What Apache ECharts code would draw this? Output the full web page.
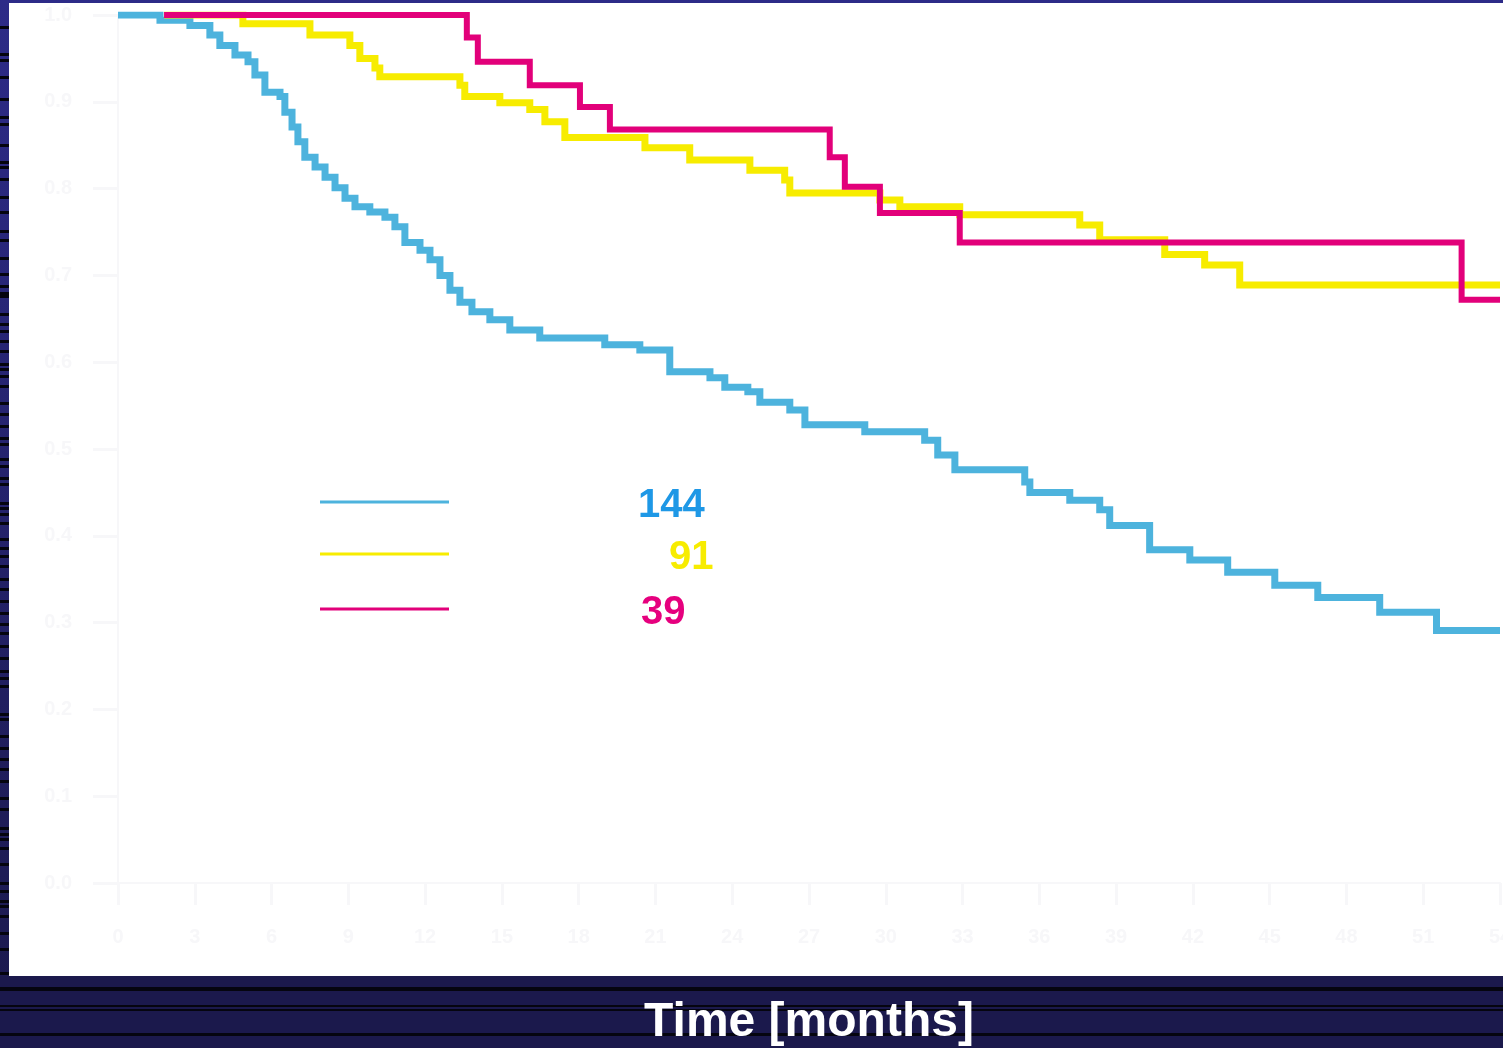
<!DOCTYPE html>
<html>
<head>
<meta charset="utf-8">
<script src="https://cdn.jsdelivr.net/npm/echarts@6/dist/echarts.min.js"></script>
<style>
  html, body { margin: 0; padding: 0; background: #1c1a4e; }
  #chart { width: 1503px; height: 1048px; }
</style>
</head>
<body>
<div id="chart"></div>
<script>
// Kaplan-Meier survival estimates, one array pair per group (time in months, survival fraction)
const groupSizes = [144, 91, 39];
const groupColors = ['#4db3dd', '#f7ec00', '#e2007a'];
const labelColors = ['#1e98e6', '#f7ec00', '#e6007e'];

const timeA = [0, 1.64, 2.81, 3.59, 3.98, 4.57, 5.08, 5.35, 5.74, 6.33, 6.52, 6.80, 7.03, 7.30, 7.70, 8.09, 8.48, 8.87, 9.26, 9.84, 10.43, 10.82, 11.21, 11.80, 12.19, 12.58, 12.97, 13.36, 13.83, 14.53, 15.31, 16.48, 19.02, 20.39, 21.56, 23.13, 23.71, 24.61, 25.08, 26.25, 26.84, 29.18, 31.52, 32.03, 32.70, 35.43, 35.63, 37.19, 38.36, 38.75, 40.31, 41.88, 43.36, 45.20, 46.88, 49.30, 51.52, 54];
const survA = [1.0, 0.994, 0.988, 0.977, 0.965, 0.954, 0.946, 0.931, 0.911, 0.906, 0.888, 0.871, 0.854, 0.836, 0.825, 0.813, 0.801, 0.789, 0.779, 0.773, 0.767, 0.756, 0.738, 0.729, 0.718, 0.700, 0.683, 0.669, 0.658, 0.649, 0.637, 0.628, 0.620, 0.614, 0.589, 0.582, 0.571, 0.566, 0.554, 0.545, 0.528, 0.520, 0.510, 0.493, 0.476, 0.462, 0.450, 0.441, 0.430, 0.412, 0.384, 0.372, 0.358, 0.343, 0.329, 0.312, 0.291, 0.291];

const timeB = [1.8, 4.88, 7.5, 9.06, 9.45, 10.04, 10.23, 13.36, 13.55, 14.92, 16.09, 16.68, 17.46, 20.59, 22.34, 24.69, 26.05, 26.25, 29.77, 30.55, 32.89, 37.58, 38.36, 40.90, 42.46, 43.83, 54];
const survB = [1.0, 0.990, 0.977, 0.965, 0.950, 0.939, 0.929, 0.919, 0.906, 0.899, 0.891, 0.877, 0.859, 0.847, 0.833, 0.821, 0.810, 0.795, 0.787, 0.779, 0.770, 0.758, 0.741, 0.724, 0.712, 0.689, 0.689];

const timeC = [1.8, 13.63, 14.06, 16.09, 18.05, 19.22, 27.81, 28.40, 29.77, 32.89, 52.5, 54];
const survC = [1.0, 0.974, 0.946, 0.919, 0.894, 0.868, 0.836, 0.802, 0.772, 0.738, 0.672, 0.672];

const xTicks = { min: 0, max: 54, interval: 3 };
const yTicks = { min: 0, max: 1, interval: 0.1 };
const xTitle = 'Time [months]';

// y positions of the dark stripes in the navy frame
const leftStripes = [26, 53, 59, 76, 98, 116, 123, 144, 161, 166, 178, 196, 211, 230, 239, 257, 273, 285, 292, 295, 313, 323, 330, 340, 350, 363, 368, 375, 385, 402, 413, 425, 437, 443, 458, 465, 477, 483, 502, 507, 513, 522, 538, 547, 555, 565, 578, 588, 600, 612, 623, 632, 645, 657, 670, 677, 685, 713, 718, 735, 747, 758, 768, 780, 797, 808, 827, 833, 838, 847, 863, 882, 890, 900, 905, 915, 932, 948, 972];
const bottomStripes = [[987, 4], [1005, 2], [1009, 2], [1033, 3]];

const pairs = (t, s) => t.map((v, i) => [v, s[i]]);
const seriesData = [pairs(timeA, survA), pairs(timeB, survB), pairs(timeC, survC)];

const chart = echarts.init(document.getElementById('chart'), null, { renderer: 'canvas' });

const frame = [];
// navy frame with stripes
frame.push({ type: 'rect', z: -10, shape: { x: 0, y: 0, width: 1503, height: 1048 },
  style: { fill: new echarts.graphic.LinearGradient(0, 0, 0, 1, [{ offset: 0, color: '#2d2b88' }, { offset: 1, color: '#1b194c' }]) } });
leftStripes.forEach(y => frame.push({ type: 'rect', z: -9, shape: { x: 0, y: y, width: 9, height: 3 }, style: { fill: '#05050f' } }));
frame.push({ type: 'rect', z: -9, shape: { x: 0, y: 976, width: 1503, height: 72 }, style: { fill: '#1b194c' } });
bottomStripes.forEach(([y, h]) => frame.push({ type: 'rect', z: -8, shape: { x: 0, y: y, width: 1503, height: h }, style: { fill: '#05050f' } }));
// white plotting panel
frame.push({ type: 'rect', z: -7, shape: { x: 9, y: 3, width: 1494, height: 973 }, style: { fill: '#ffffff' } });

const faint = '#f7f7f9';

const legends = groupSizes.map((n, i) => ({
  data: [String(n)],
  left: 315,
  top: [473, 525, 580][i],
  icon: 'rect',
  itemWidth: 129,
  itemHeight: 3,
  selectedMode: false,
  formatter: name => '{n|' + name + '}',
  textStyle: {
    rich: {
      n: {
        color: labelColors[i],
        fontFamily: 'Liberation Sans, Arial, sans-serif',
        fontWeight: 'bold',
        fontSize: 40,
        lineHeight: 44,
        padding: [8, 0, 0, [184, 215, 187][i]]
      }
    }
  }
}));

chart.setOption({
  animation: false,
  backgroundColor: 'transparent',
  graphic: frame,
  grid: { left: 118, right: 3, top: 15, bottom: 165, containLabel: false, outerBoundsMode: 'none' },
  legend: legends,
  xAxis: {
    type: 'value',
    min: xTicks.min, max: xTicks.max, interval: xTicks.interval,
    name: xTitle,
    nameLocation: 'middle',
    nameGap: 116,
    nameTextStyle: { color: '#ffffff', fontFamily: 'Liberation Sans, Arial, sans-serif', fontWeight: 'bold', fontSize: 48 },
    axisLine: { show: true, lineStyle: { color: faint, width: 2 } },
    axisTick: { show: true, length: 22, lineStyle: { color: faint, width: 3 } },
    axisLabel: { color: faint, fontSize: 20, fontWeight: 'bold', margin: 44, fontFamily: 'Liberation Sans, Arial, sans-serif' },
    splitLine: { show: false }
  },
  yAxis: {
    type: 'value',
    min: yTicks.min, max: yTicks.max, interval: yTicks.interval,
    axisLine: { show: true, lineStyle: { color: faint, width: 2 } },
    axisTick: { show: true, length: 25, lineStyle: { color: faint, width: 3 } },
    axisLabel: { color: faint, fontSize: 20, fontWeight: 'bold', margin: 46, formatter: v => v.toFixed(1), fontFamily: 'Liberation Sans, Arial, sans-serif' },
    splitLine: { show: false }
  },
  series: seriesData.map((d, i) => ({
    name: String(groupSizes[i]),
    type: 'line',
    step: 'end',
    data: d,
    showSymbol: false,
    symbol: 'none',
    color: groupColors[i],
    lineStyle: { color: groupColors[i], width: [7, 7, 6][i], join: 'miter', cap: 'butt' },
    z: 2 + i
  }))
});
</script>
</body>
</html>
